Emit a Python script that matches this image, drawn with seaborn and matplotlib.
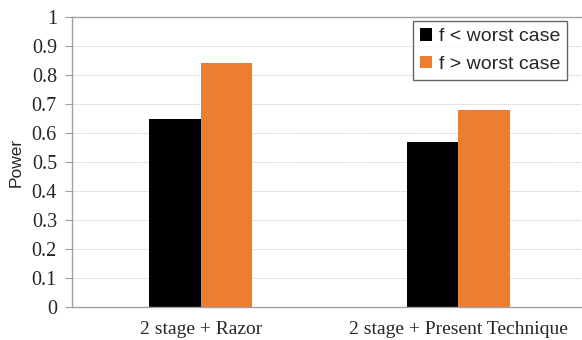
import pandas as pd
import matplotlib.pyplot as plt
import seaborn as sns

categories = ["2 stage + Razor", "2 stage + Present Technique"]
series = ["f < worst case", "f > worst case"]
below_worst = [0.65, 0.57]
above_worst = [0.84, 0.68]

df = pd.DataFrame({
    "Config": categories * 2,
    "Case": [series[0]] * 2 + [series[1]] * 2,
    "Power": below_worst + above_worst,
})

sns.set_style("white")

fig = plt.figure(figsize=(5.82, 3.40), dpi=100)
ax = fig.add_axes([0.124, 0.097, 0.876, 0.853])

sns.barplot(data=df, x="Config", y="Power", hue="Case", ax=ax,
            palette=["#000000", "#ED7D31"], width=0.4, saturation=1,
            edgecolor="none", linewidth=0)

ax.set_xlim(-0.5, 1.48)
ax.set_ylim(0, 1)
ax.set_yticks([i / 10 for i in range(11)])
ax.set_yticklabels(["0"] + [f"{i/10:.1f}" for i in range(1, 10)] + ["1"],
                   family="Liberation Serif", fontsize=14.5)
ax.set_xticks(range(len(categories)))
ax.set_xticklabels(categories, family="Liberation Serif", fontsize=14)
ax.tick_params(axis="x", length=0, pad=10)
ax.tick_params(axis="y", length=5, color="#a0a0a0", width=0.8, left=True, pad=6)

ax.set_xlabel("")
ax.set_ylabel("Power", family="Liberation Sans", fontsize=12.5, labelpad=6)

ax.yaxis.grid(True, color="#c8c8c8", linestyle=(0, (1, 1)), linewidth=0.7)
ax.set_axisbelow(True)
for side in ["left", "bottom", "top"]:
    ax.spines[side].set_color("#a0a0a0")
    ax.spines[side].set_linewidth(1)
ax.spines["right"].set_visible(False)

leg = ax.legend(loc="upper right", bbox_to_anchor=(0.97, 0.985),
                prop={"family": "Liberation Sans", "size": 14},
                frameon=True, fancybox=False, handlelength=0.6,
                handleheight=0.6, handletextpad=0.35, labelspacing=0.55,
                borderpad=0.35, borderaxespad=0)
leg.get_frame().set_edgecolor("#404040")
leg.get_frame().set_linewidth(1)

fig.savefig("out.png", dpi=100)
